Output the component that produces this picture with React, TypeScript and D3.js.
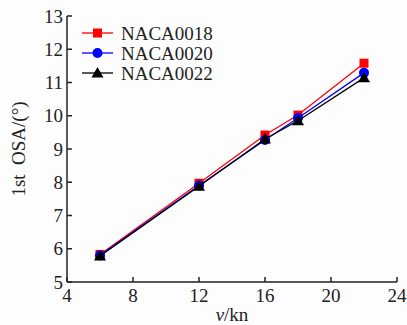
import React from "react";
import * as d3 from "d3";

const speeds = [6, 12, 16, 18, 22];
const naca0018 = [5.83, 7.97, 9.42, 10.02, 11.58];
const naca0020 = [5.8, 7.9, 9.27, 9.93, 11.29];
const naca0022 = [5.78, 7.88, 9.3, 9.85, 11.14];
const seriesNames = ["NACA0018", "NACA0020", "NACA0022"];
const seriesColors = ["#ff0000", "#0000ff", "#000000"];
const xTicks = [4, 8, 12, 16, 20, 24];
const yTicks = [5, 6, 7, 8, 9, 10, 11, 12, 13];

const W = 407, H = 325;
const L = 67, R = 397, T = 16, B = 282;
const FONT = "'Liberation Serif', 'Times New Roman', serif";

function Marker({ kind, x, y, color }: { kind: number; x: number; y: number; color: string }) {
  if (kind === 0) return <rect x={x - 4.5} y={y - 4.5} width={9} height={9} fill={color} />;
  if (kind === 1) return <circle cx={x} cy={y} r={5} fill={color} />;
  const s = 6;
  return <path d={`M${x},${y - s}L${x + s},${y + s * 0.75}L${x - s},${y + s * 0.75}Z`} fill={color} />;
}

export default function App() {
  const x = d3.scaleLinear().domain([4, 24]).range([L, R]);
  const y = d3.scaleLinear().domain([5, 13]).range([B, T]);
  const data = [naca0018, naca0020, naca0022];
  const line = d3.line<[number, number]>().x(d => x(d[0])).y(d => y(d[1]));

  return (
    <svg width={W} height={H} style={{ position: "absolute", left: 0, top: 0, background: "#fdfdfd" }} fontFamily={FONT}>
      {/* axes */}
      <line x1={L} x2={L} y1={T} y2={B} stroke="#222" strokeWidth={1.5} />
      <line x1={L} x2={R} y1={B} y2={B} stroke="#222" strokeWidth={1.5} />
      {yTicks.map(t => (
        <g key={"y" + t}>
          <line x1={L} x2={L + 5} y1={y(t)} y2={y(t)} stroke="#222" strokeWidth={1.5} />
          <text x={L - 4} y={y(t)} dy="0.35em" textAnchor="end" fontSize={19} fill="#222">{t}</text>
        </g>
      ))}
      {xTicks.map(t => (
        <g key={"x" + t}>
          <line x1={x(t)} x2={x(t)} y1={B} y2={B - 5} stroke="#222" strokeWidth={1.5} />
          <text x={x(t)} y={B + 20} textAnchor="middle" fontSize={19} fill="#222">{t}</text>
        </g>
      ))}
      <text x={232} y={321} textAnchor="middle" fontSize={19} fill="#222">
        <tspan fontStyle="italic">v</tspan>/kn
      </text>
      <text transform={`translate(25,${(T + B) / 2}) rotate(-90)`} textAnchor="middle" fontSize={19} fill="#222">
        {"1st\u00a0 OSA/(°)"}
      </text>
      {/* series */}
      {data.map((vals, i) => {
        const pts = speeds.map((s, j) => [s, vals[j]] as [number, number]);
        return (
          <g key={i}>
            <path d={line(pts) || ""} fill="none" stroke={seriesColors[i]} strokeWidth={1.3} />
            {pts.map((p, j) => (
              <Marker key={j} kind={i} x={x(p[0])} y={y(p[1])} color={seriesColors[i]} />
            ))}
          </g>
        );
      })}
      {/* legend */}
      {seriesNames.map((n, i) => {
        const ly = 33 + i * 20;
        return (
          <g key={n}>
            <line x1={82} x2={113} y1={ly} y2={ly} stroke={seriesColors[i]} strokeWidth={1.3} />
            <Marker kind={i} x={97.5} y={ly} color={seriesColors[i]} />
            <text x={121} y={ly} dy="0.35em" fontSize={19} fill="#222">{n}</text>
          </g>
        );
      })}
    </svg>
  );
}
